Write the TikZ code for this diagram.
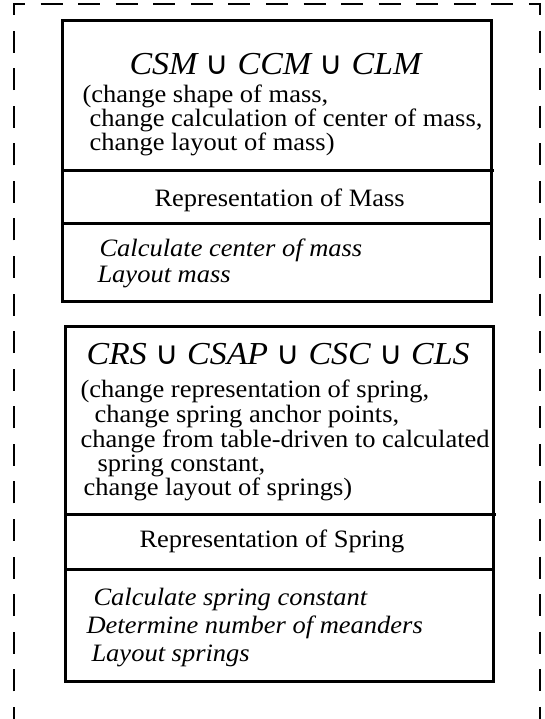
\documentclass[tikz,border=0pt]{standalone}
\usepackage{fontspec}
\setmainfont{Liberation Serif}[FakeStretch=1.06]
\newfontfamily\symfont{DejaVu Sans}
\usetikzlibrary{positioning}
\newcommand{\unionop}{{\symfont\upshape ∪}}
\tikzset{
  every picture/.style={line width=3pt},
  part/.style={draw, minimum width=#1, inner sep=0pt, outer sep=0pt},
  part/.default=429pt,
  txt/.style={font=\fontsize{25}{24}\selectfont, inner sep=0pt, anchor=base west},
  op/.style={txt, font=\fontsize{25}{24}\selectfont\itshape},
  head/.style={txt, font=\fontsize{32}{32}\selectfont\itshape},
  dashframe/.style={line width=2pt, dash pattern=on 22pt off 15.57pt, dash phase=9.83pt},
}
\begin{document}
\begin{tikzpicture}[x=1pt, y=-1pt]
  \useasboundingbox (0,0) rectangle (545,719);
  \draw[dashframe] (14,719) -- (14,4) -- (540,4) -- (540,719);

  % mass
  \node[part, minimum height=150pt, anchor=north west] (mhead) at (62,21) {};
  \node[part, minimum height=52pt, below=0pt of mhead] (mrep) {};
  \node[part, minimum height=78pt, below=0pt of mrep] (mops) {};
  \draw (mhead.south east) -- ++(3,0);
  \node[head] (mname) at (128,75) {CSM \unionop{} CCM \unionop{} CLM};
  \foreach \y/\x/\t [count=\i] in {103/81/{(change shape of mass,}, 127/88/{change calculation of center of mass,}, 151/88/{change layout of mass)}}
    \node[txt] (mchg\i) at (\x,\y) {\t};
  \node[txt] (mrepl) at (153,207) {Representation of Mass};
  \foreach \y/\x/\t [count=\i] in {256/98/{Calculate center of mass}, 282/96/{Layout mass}}
    \node[op] (mop\i) at (\x,\y) {\t};

  % spring
  \node[part=428pt, minimum height=188pt, anchor=north west] (shead) at (65,326) {};
  \node[part=428pt, minimum height=55pt, below=0pt of shead] (srep) {};
  \node[part=428pt, minimum height=112pt, below=0pt of srep] (sops) {};
  \draw (shead.south east) -- ++(3,0);
  \node[head] (sname) at (85,364) {CRS \unionop{} CSAP \unionop{} CSC \unionop{} CLS};
  \foreach \y/\x/\t [count=\i] in {397/79/{(change representation of spring,}, 422/93/{change spring anchor points,}, 447/79/{change from table-driven to calculated}, 471/96/{spring constant,}, 495/82/{change layout of springs)}}
    \node[txt] (schg\i) at (\x,\y) {\t};
  \node[txt] (srepl) at (138,547) {Representation of Spring};
  \foreach \y/\x/\t [count=\i] in {605/92/{Calculate spring constant}, 633/85/{Determine number of meanders}, 661/90/{Layout springs}}
    \node[op] (sop\i) at (\x,\y) {\t};
\end{tikzpicture}
\end{document}
